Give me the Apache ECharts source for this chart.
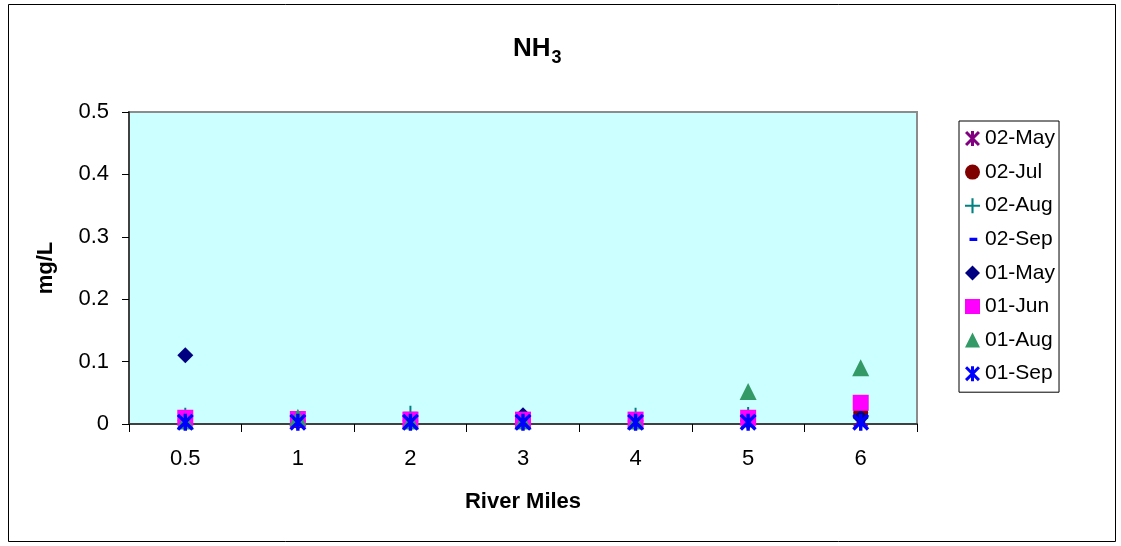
<!DOCTYPE html>
<html>
<head>
<meta charset="utf-8">
<script src="https://cdn.jsdelivr.net/npm/echarts@6/dist/echarts.min.js"></script>
<style>
  html, body { margin: 0; padding: 0; background: #fff; }
  #chart { width: 1121px; height: 546px; }
</style>
</head>
<body>
<div id="chart"></div>
<script>
// River mile stations along the x axis
const riverMiles = ['0.5', '1', '2', '3', '4', '5', '6'];

// NH3 concentrations (mg/L) per sampling date
const may02 = [0.005, 0.004, 0.005, 0.004, 0.005, 0.004, 0.006];
const jul02 = [0.006, 0.005, 0.006, 0.005, 0.006, 0.006, 0.018];
const aug02 = [0.015, 0.010, 0.018, 0.010, 0.015, 0.016, 0.010];
const sep02 = [0.003, 0.003, 0.003, 0.003, 0.003, 0.003, 0.003];
const may01 = [0.110, 0.005, 0.005, 0.014, 0.005, 0.005, 0.010];
const jun01 = [0.010, 0.008, 0.007, 0.007, 0.007, 0.010, 0.034];
const aug01 = [0.005, 0.011, 0.005, 0.005, 0.005, 0.052, 0.090];
const sep01 = [0.003, 0.003, 0.003, 0.003, 0.003, 0.003, 0.003];

const yTicks = ['0', '0.1', '0.2', '0.3', '0.4', '0.5'];

const FONT = 'Arial, "Liberation Sans", sans-serif';

// Marker outlines built from filled strokes, in a 10x10 box
const STAR = 'path://M4,0L6,0L6,10L4,10Z M0,1.4L1.4,0L10,8.6L8.6,10Z M8.6,0L10,1.4L1.4,10L0,8.6Z';
const PLUS = 'path://M4.3,0L5.7,0L5.7,4.3L10,4.3L10,5.7L5.7,5.7L5.7,10L4.3,10L4.3,5.7L0,5.7L0,4.3L4.3,4.3Z';
const DASH = 'path://M0,0L0.01,0L0,0.01Z M10,10L9.99,10L10,9.99Z M3,3.9L8.2,3.9L8.2,6.1L3,6.1Z';

function scatter(name, data, symbol, size, color) {
  return {
    name: name,
    type: 'scatter',
    data: data,
    symbol: symbol,
    symbolSize: size,
    symbolKeepAspect: true,
    itemStyle: { color: color, opacity: 1 },
    emphasis: { disabled: true }
  };
}

const chart = echarts.init(document.getElementById('chart'), null, { renderer: 'canvas' });

chart.setOption({
  animation: false,
  backgroundColor: '#ffffff',
  textStyle: { fontFamily: FONT },
  title: {
    text: '{a|NH}{b|3}',
    left: 513,
    top: 36,
    padding: 0,
    textStyle: {
      rich: {
        a: { fontFamily: FONT, fontSize: 26, fontWeight: 'bold', color: '#000', lineHeight: 26, verticalAlign: 'top' },
        b: { fontFamily: FONT, fontSize: 18, fontWeight: 'bold', color: '#000', lineHeight: 18, verticalAlign: 'top', padding: [13, 0, 0, 1] }
      }
    }
  },
  graphic: [{
    type: 'rect',
    shape: { x: 8.5, y: 4.5, width: 1107, height: 537 },
    style: { fill: 'none', stroke: '#000', lineWidth: 1 },
    silent: true,
    z: -1
  }],
  legend: {
    orient: 'vertical',
    left: 959,
    top: 121,
    padding: [7, 4, 8, 6],
    itemGap: 12.6,
    itemWidth: 15,
    itemHeight: 15,
    borderColor: '#000',
    borderWidth: 1,
    backgroundColor: '#fff',
    selectedMode: false,
    textStyle: { fontFamily: FONT, fontSize: 21, color: '#000', lineHeight: 21 },
    data: ['02-May', '02-Jul', '02-Aug', '02-Sep', '01-May', '01-Jun', '01-Aug', '01-Sep']
  },
  grid: {
    left: 129,
    top: 112,
    right: 204,
    bottom: 122,
    show: true,
    backgroundColor: '#CCFFFF',
    borderColor: '#8c8c8c',
    borderWidth: 2
  },
  xAxis: {
    type: 'category',
    data: riverMiles,
    boundaryGap: true,
    name: 'River Miles',
    nameLocation: 'middle',
    nameGap: 67,
    nameTextStyle: { fontFamily: FONT, fontSize: 22, fontWeight: 'bold', color: '#000' },
    axisLine: { show: true, lineStyle: { color: '#404040', width: 2 } },
    axisTick: { show: true, inside: false, length: 8, alignWithLabel: false, lineStyle: { color: '#000', width: 1 } },
    axisLabel: { fontFamily: FONT, fontSize: 22, color: '#000', margin: 24 },
    splitLine: { show: false }
  },
  yAxis: {
    type: 'value',
    min: 0,
    max: 0.5,
    interval: 0.1,
    name: 'mg/L',
    nameLocation: 'middle',
    nameGap: 72,
    nameTextStyle: { fontFamily: FONT, fontSize: 22, fontWeight: 'bold', color: '#000' },
    axisLine: { show: true, lineStyle: { color: '#404040', width: 2 } },
    axisTick: { show: true, inside: false, length: 7, lineStyle: { color: '#000', width: 1 } },
    axisLabel: {
      fontFamily: FONT, fontSize: 22, color: '#000', margin: 20,
      formatter: function (v) {
        const i = Math.round(v * 10);
        return yTicks[i] !== undefined ? yTicks[i] : '';
      }
    },
    splitLine: { show: false }
  },
  series: [
    scatter('02-May', may02, STAR, 15, '#800080'),
    scatter('02-Jul', jul02, 'circle', 15, '#800000'),
    scatter('02-Aug', aug02, PLUS, 14, '#008080'),
    scatter('02-Sep', sep02, DASH, 14, '#0000FF'),
    scatter('01-May', may01, 'diamond', 16, '#000080'),
    scatter('01-Jun', jun01, 'rect', 16, '#FF00FF'),
    scatter('01-Aug', aug01, 'triangle', 17, '#339966'),
    scatter('01-Sep', sep01, STAR, 17, '#0000FF')
  ]
});
</script>
</body>
</html>
